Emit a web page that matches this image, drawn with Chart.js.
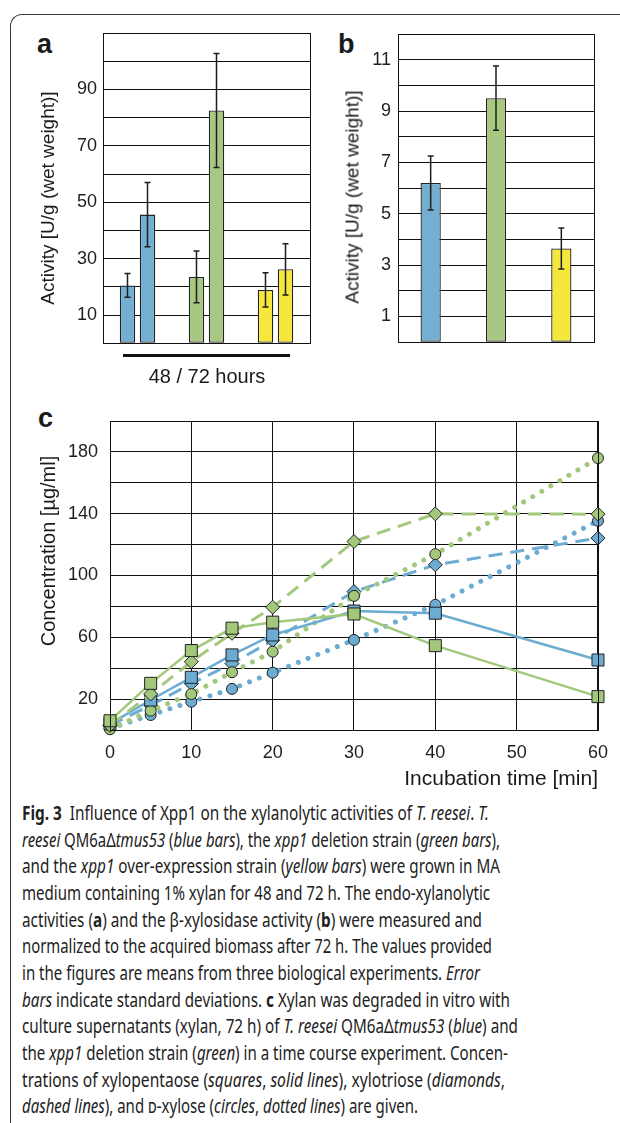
<!DOCTYPE html>
<html>
<head>
<meta charset="utf-8">
<script src="https://cdn.jsdelivr.net/npm/chart.js@4"></script>
<style>
  html, body { margin: 0; padding: 0; background: #fff; }
  body { width: 620px; height: 1123px; position: relative; overflow: hidden;
         font-family: "Liberation Sans", Arial, sans-serif; color: #1a1a1a; }
  .frame { position: absolute; left: 10px; top: 14px; width: 700px; height: 1200px;
           border-left: 1.5px solid #3a3a3a; border-top: 1.5px solid #3a3a3a; border-top-left-radius: 12px; }
  .wrap { position: absolute; }
  .plabel { position: absolute; font-weight: bold; font-size: 27px; line-height: 1; }
  .ytitle { position: absolute; font-size: 19px; white-space: nowrap; line-height: 1;
            transform: translate(-50%, -50%) rotate(-90deg); }
  .hours-line { position: absolute; left: 123px; top: 354px; width: 167px; height: 3px; background: #111; }
  .hours { position: absolute; left: 107px; width: 200px; top: 365px; text-align: center; font-size: 20px; }
  .xtitle { position: absolute; right: 22px; top: 766px; font-size: 21px; line-height: 24px; }
  .caption { position: absolute; left: 22px; top: 800px; font-family: "Noto Sans", sans-serif;
             font-size: 20px; line-height: 26.67px; color: #222; }
  .caption div { white-space: nowrap; transform-origin: 0 50%; width: max-content; }
  .sc { font-variant: small-caps; }
</style>
</head>
<body>
<div class="frame"></div>

<div class="plabel" style="left:37px; top:31px;">a</div>
<div class="plabel" style="left:338px; top:31px;">b</div>
<div class="plabel" style="left:38px; top:405px;">c</div>

<div class="wrap" style="left:0; top:0;"><canvas id="chartA" width="320" height="360"></canvas></div>
<div class="wrap" style="left:310px; top:0;"><canvas id="chartB" width="310" height="360"></canvas></div>
<div class="wrap" style="left:0; top:390px;"><canvas id="chartC" width="620" height="400"></canvas></div>

<div class="ytitle" style="left:47px; top:198px;">Activity [U/g (wet weight)]</div>
<div class="ytitle" style="left:352px; top:197px;">Activity [U/g (wet weight)]</div>
<div class="ytitle" style="left:48px; top:551px; font-size:20px;">Concentration [µg/ml]</div>

<div class="hours-line"></div>
<div class="hours">48 / 72 hours</div>
<div class="xtitle">Incubation time [min]</div>

<div class="caption" id="caption">
  <div data-w="467"><b>Fig. 3</b>&nbsp; Influence of Xpp1 on the xylanolytic activities of <i>T. reesei</i>. <i>T.</i></div>
  <div data-w="478"><i>reesei</i> QM6aΔ<i>tmus53</i> (<i>blue bars</i>), the <i>xpp1</i> deletion strain (<i>green bars</i>),</div>
  <div data-w="478">and the <i>xpp1</i> over-expression strain (<i>yellow bars</i>) were grown in MA</div>
  <div data-w="468">medium containing 1% xylan for 48 and 72 h. The endo-xylanolytic</div>
  <div data-w="460">activities (<b>a</b>) and the β-xylosidase activity (<b>b</b>) were measured and</div>
  <div data-w="470">normalized to the acquired biomass after 72 h. The values provided</div>
  <div data-w="458">in the figures are means from three biological experiments. <i>Error</i></div>
  <div data-w="488"><i>bars</i> indicate standard deviations. <b>c</b> Xylan was degraded in vitro with</div>
  <div data-w="496">culture supernatants (xylan, 72 h) of <i>T. reesei</i> QM6aΔ<i>tmus53</i> (<i>blue</i>) and</div>
  <div data-w="486">the <i>xpp1</i> deletion strain (<i>green</i>) in a time course experiment. Concen-</div>
  <div data-w="483">trations of xylopentaose (<i>squares</i>, <i>solid lines</i>), xylotriose (<i>diamonds</i>,</div>
  <div data-w="396"><i>dashed lines</i>), and <span class="sc">d</span>-xylose (<i>circles</i>, <i>dotted lines</i>) are given.</div>
</div>

<script>
    // panel a: endo-xylanolytic activity, 48 h and 72 h
    const strains = ['QM6aΔtmus53', 'Δxpp1', 'xpp1 OE'];
    const endo48 = [20.5, 23.5, 18.9];
    const endo48Err = [4.2, 9.2, 6.1];
    const endo72 = [45.6, 82.5, 26.2];
    const endo72Err = [11.4, 20.2, 9.1];

    // panel b: beta-xylosidase activity
    const betaXyl = [6.2, 9.5, 3.65];
    const betaXylErr = [1.05, 1.25, 0.8];

    // panel c: time course
    const times = [0, 5, 10, 15, 20, 30, 40, 60];
    const blueSquares = [4, 19.4, 34.1, 48.6, 61.5, 77, 75.6, 45.3];
    const blueDiamonds = [3, 16, 30, 43, 58, 89.6, 106.9, 124.2];
    const blueCircles = [1, 9.7, 18.3, 26.6, 37.1, 58.3, 81, 135.4];
    const greenSquares = [6, 30.2, 51.4, 65.9, 69.8, 75.1, 54.6, 21.6];
    const greenDiamonds = [3, 23.3, 44.2, 62.6, 79.5, 122, 139.9, 139.7];
    const greenCircles = [0.5, 12.5, 23.3, 37.4, 50.7, 86.8, 113.8, 176];

    const BLUE = '#74aed0';
    const GREEN = '#a7c783';
    const YELLOW = '#f6e73c';
    const LINE_BLUE = '#6dacd2';
    const LINE_GREEN = '#a3c87c';
    const INK = '#1e1e1e';
    const GRID = '#111';
    const barColors = [BLUE, GREEN, YELLOW];

    Chart.defaults.font.family = '"Liberation Sans", Arial, sans-serif';
    Chart.defaults.font.size = 18;
    Chart.defaults.color = INK;
    Chart.defaults.animation = false;

    // rahmen um die plotfläche
    const plotBox = {
        id: 'plotBox',
        afterDraw(chart) {
            const a = chart.chartArea;
            const ctx = chart.ctx;
            ctx.save();
            ctx.strokeStyle = GRID;
            ctx.lineWidth = 1;
            ctx.strokeRect(Math.round(a.left) + 0.5, Math.round(a.top) + 0.5,
                Math.round(a.right - a.left), Math.round(a.bottom - a.top));
            ctx.restore();
        }
    };

    // fehlerbalken
    const errorBars = {
        id: 'errorBars',
        afterDatasetsDraw(chart) {
            const ctx = chart.ctx;
            const y = chart.scales.y;
            chart.data.datasets.forEach((ds, i) => {
                if (!ds.errors) return;
                chart.getDatasetMeta(i).data.forEach((bar, j) => {
                    const v = ds.data[j];
                    const e = ds.errors[j];
                    const top = y.getPixelForValue(v + e);
                    const bot = y.getPixelForValue(v - e);
                    ctx.save();
                    ctx.strokeStyle = INK;
                    ctx.lineWidth = 1.5;
                    ctx.beginPath();
                    ctx.moveTo(bar.x, top); ctx.lineTo(bar.x, bot);
                    ctx.moveTo(bar.x - 3, top); ctx.lineTo(bar.x + 3, top);
                    ctx.moveTo(bar.x - 3, bot); ctx.lineTo(bar.x + 3, bot);
                    ctx.stroke();
                    ctx.restore();
                });
            });
        }
    };

    function yAxis(max, step, width, pad, showTick) {
        return {
            min: 0,
            max: max,
            afterFit: s => { s.width = width; },
            ticks: {
                stepSize: step,
                autoSkip: false,
                padding: pad,
                callback: v => showTick(v) ? v : ''
            },
            grid: { color: GRID, lineWidth: 1, drawTicks: false },
            border: { display: true, color: GRID }
        };
    }

    // a
    new Chart(document.getElementById('chartA'), {
        type: 'bar',
        data: {
            labels: strains,
            datasets: [
                { label: '48 h', data: endo48, errors: endo48Err },
                { label: '72 h', data: endo72, errors: endo72Err }
            ].map(ds => Object.assign(ds, {
                backgroundColor: barColors,
                borderColor: '#222',
                borderWidth: 1.3,
                borderSkipped: false,
                categoryPercentage: 0.58,
                barPercentage: 0.77
            }))
        },
        options: {
            responsive: false,
            layout: { padding: { left: 0, top: 33, right: 10, bottom: 14 } },
            plugins: { legend: { display: false }, tooltip: { enabled: false } },
            scales: {
                x: { display: false },
                y: yAxis(110, 10, 103, 6, v => v % 20 === 10 && v < 110)
            }
        },
        plugins: [errorBars, plotBox]
    });

    // b
    new Chart(document.getElementById('chartB'), {
        type: 'bar',
        data: {
            labels: strains,
            datasets: [{
                label: 'beta-xylosidase',
                data: betaXyl,
                errors: betaXylErr,
                backgroundColor: barColors,
                borderColor: '#222',
                borderWidth: 1.3,
                borderSkipped: false,
                categoryPercentage: 1,
                barPercentage: 0.31
            }]
        },
        options: {
            responsive: false,
            layout: { padding: { left: 0, top: 34, right: 26, bottom: 17 } },
            plugins: { legend: { display: false }, tooltip: { enabled: false } },
            scales: {
                x: { display: false },
                y: yAxis(12, 1, 88, 7, v => v % 2 === 1 && v < 12)
            }
        },
        plugins: [errorBars, plotBox]
    });

    // c
    function series(label, values, color, shape, radius, dash, width, order) {
        return {
            label: label,
            data: times.map((t, i) => ({ x: t, y: values[i] })),
            borderColor: color,
            borderWidth: width,
            borderDash: dash,
            borderCapStyle: dash.length && dash[0] < 1 ? 'round' : 'butt',
            backgroundColor: color,
            pointStyle: shape,
            pointRadius: radius,
            pointBackgroundColor: color,
            pointBorderColor: '#222',
            pointBorderWidth: 1,
            tension: 0,
            clip: false,
            order: order
        };
    }

    const dotted = [0.01, 10.5];
    const dashed = [14, 8];

    new Chart(document.getElementById('chartC'), {
        type: 'line',
        data: {
            datasets: [
                series('xylopentaose Δxpp1', greenSquares, LINE_GREEN, 'rect', 8.5, [], 2.5, 0),
                series('xylotriose Δxpp1', greenDiamonds, LINE_GREEN, 'rectRot', 7, dashed, 3, 1),
                series('xylopentaose QM6aΔtmus53', blueSquares, LINE_BLUE, 'rect', 8.5, [], 2.5, 2),
                series('D-xylose Δxpp1', greenCircles, LINE_GREEN, 'circle', 5.5, dotted, 5, 3),
                series('xylotriose QM6aΔtmus53', blueDiamonds, LINE_BLUE, 'rectRot', 7, dashed, 3, 4),
                series('D-xylose QM6aΔtmus53', blueCircles, LINE_BLUE, 'circle', 5.5, dotted, 5, 5)
            ]
        },
        options: {
            responsive: false,
            layout: { padding: { left: 0, top: 31, right: 22, bottom: 20 } },
            plugins: { legend: { display: false }, tooltip: { enabled: false } },
            scales: {
                x: {
                    type: 'linear',
                    min: 0,
                    max: 60,
                    afterFit: s => { s.height = 40; },
                    ticks: { stepSize: 10, padding: 12, maxRotation: 0 },
                    grid: { color: GRID, lineWidth: 1, drawTicks: false },
                    border: { display: true, color: GRID }
                },
                y: yAxis(200, 20, 110, 12, v => v % 40 === 20)
            }
        },
        plugins: [plotBox]
    });

    // bildunterschrift auf die breite der vorlage bringen
    document.querySelectorAll('#caption div').forEach(line => {
        const natural = line.getBoundingClientRect().width;
        const target = parseFloat(line.dataset.w);
        line.style.transform = 'scaleX(' + (target / natural).toFixed(4) + ')';
    });
</script>
</body>
</html>
